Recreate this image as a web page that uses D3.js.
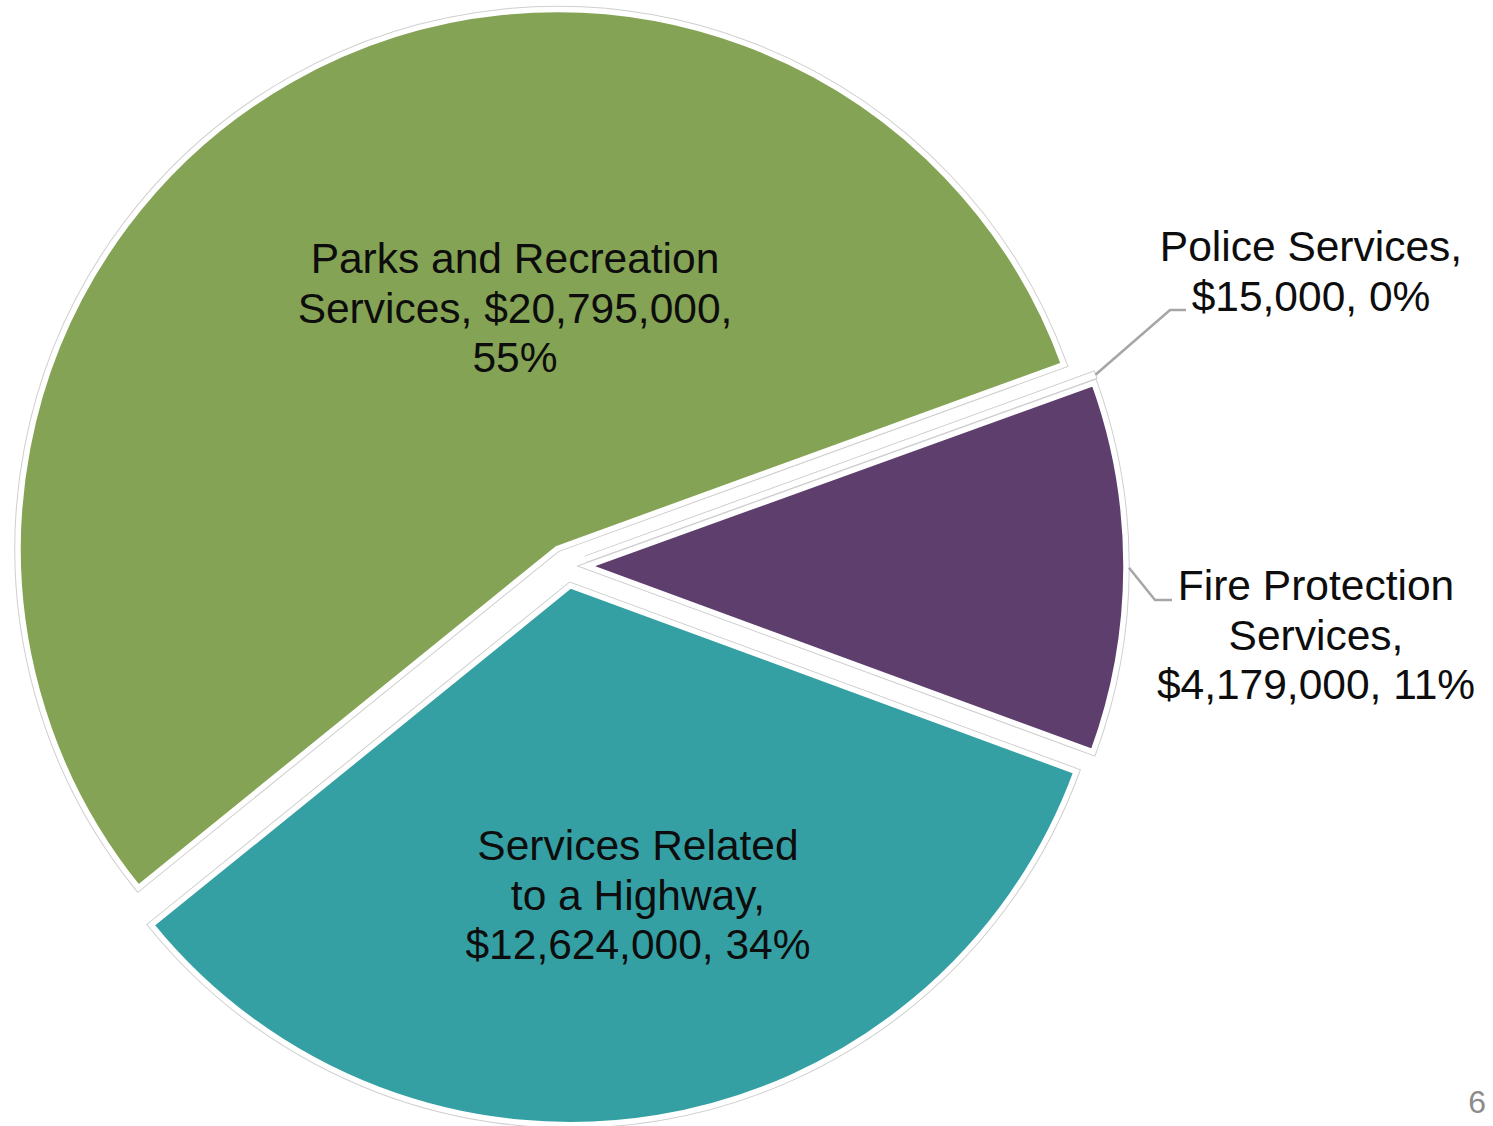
<!DOCTYPE html>
<html>
<head>
<meta charset="utf-8">
<script src="https://cdn.jsdelivr.net/npm/d3@7"></script>
<style>
  html, body { margin: 0; padding: 0; background: #ffffff; }
  svg { display: block; }
  text { font-family: "Liberation Sans", Arial, sans-serif; }
</style>
</head>
<body>
<svg id="chart" width="1493" height="1126"></svg>
<script>
// Service categories and their amounts (dollars)
const categories = [
  "Parks and Recreation Services",
  "Police Services",
  "Fire Protection Services",
  "Services Related to a Highway"
];
const amounts = [20795000, 15000, 4179000, 12624000];
const sliceColors = ["#84a354", "#8064a2", "#5d3e6d", "#35a0a3"];

// Label line templates: {v} = amount, {p} = share of total
const labelTemplates = [
  ["Parks and Recreation", "Services, {v},", "{p}"],
  ["Police Services,", "{v}, {p}"],
  ["Fire Protection", "Services,", "{v}, {p}"],
  ["Services Related", "to a Highway,", "{v}, {p}"]
];

const pageNumber = "6";

// ---- layout ----
const W = 1493, H = 1126;
const cx = 567, cy = 566;
const R = 539;
const explode = 20;
const lineH = 49.5;
const fontSize = 42.5;

// label anchors (center x, first baseline y) and leader elbows for outside labels
const labelLayout = [
  { x: 515, y: 273, inside: true },
  { x: 1311, y: 261, inside: false, elbow: [1170, 310], end: [1186, 310] },
  { x: 1316, y: 600, inside: false, elbow: [1155, 600], end: [1172, 600] },
  { x: 638, y: 860, inside: true }
];

const svg = d3.select("#chart");
const total = d3.sum(amounts);
const fmtMoney = d3.format("$,");
const fmtPct = v => Math.round(v / total * 100) + "%";

const data = categories.map((c, i) => ({ name: c, value: amounts[i], color: sliceColors[i], i }));

const startA = 231 * Math.PI / 180;
const pie = d3.pie()
  .sort(null)
  .value(d => d.value)
  .startAngle(startA)
  .endAngle(startA + 2 * Math.PI);

const arcs = pie(data);
const arc = d3.arc().innerRadius(0).outerRadius(R);

const g = svg.append("g").attr("transform", `translate(${cx},${cy})`);

const offsetOf = a => {
  const m = (a.startAngle + a.endAngle) / 2;
  return [Math.sin(m) * explode, -Math.cos(m) * explode];
};

const slices = g.selectAll("g.slice")
  .data(arcs)
  .join("g")
  .attr("class", "slice")
  .attr("transform", a => { const o = offsetOf(a); return `translate(${o[0]},${o[1]})`; });

// faint grey outline outside the white border
slices.append("path")
  .attr("d", arc)
  .attr("fill", a => a.data.color)
  .attr("stroke", "#cfcfcf")
  .attr("stroke-width", 7.5)
  .attr("stroke-linejoin", "miter");

slices.append("path")
  .attr("d", arc)
  .attr("fill", a => a.data.color)
  .attr("stroke", "#ffffff")
  .attr("stroke-width", 5.5)
  .attr("stroke-linejoin", "miter");

// leader lines for outside labels
arcs.forEach((a, i) => {
  const L = labelLayout[i];
  if (L.inside) return;
  const o = offsetOf(a);
  const m = (a.startAngle + a.endAngle) / 2;
  const r0 = R + 3;
  const sx = cx + o[0] + Math.sin(m) * r0;
  const sy = cy + o[1] - Math.cos(m) * r0;
  svg.append("path")
    .attr("d", d3.line()([[sx, sy], L.elbow, L.end]))
    .attr("fill", "none")
    .attr("stroke", "#a6a6a6")
    .attr("stroke-width", 2.5);
});

// labels
arcs.forEach((a, i) => {
  const L = labelLayout[i];
  const lines = labelTemplates[i].map(t =>
    t.replace("{v}", fmtMoney(a.data.value)).replace("{p}", fmtPct(a.data.value)));
  const t = svg.append("text")
    .attr("text-anchor", "middle")
    .attr("font-size", fontSize)
    .attr("fill", "#0d0d0d");
  lines.forEach((ln, k) => {
    t.append("tspan").attr("x", L.x).attr("y", L.y + k * lineH).text(ln);
  });
});

// page number
svg.append("text")
  .attr("x", 1486).attr("y", 1113)
  .attr("text-anchor", "end")
  .attr("font-size", 32)
  .attr("fill", "#8c8c8c")
  .text(pageNumber);
</script>
</body>
</html>
